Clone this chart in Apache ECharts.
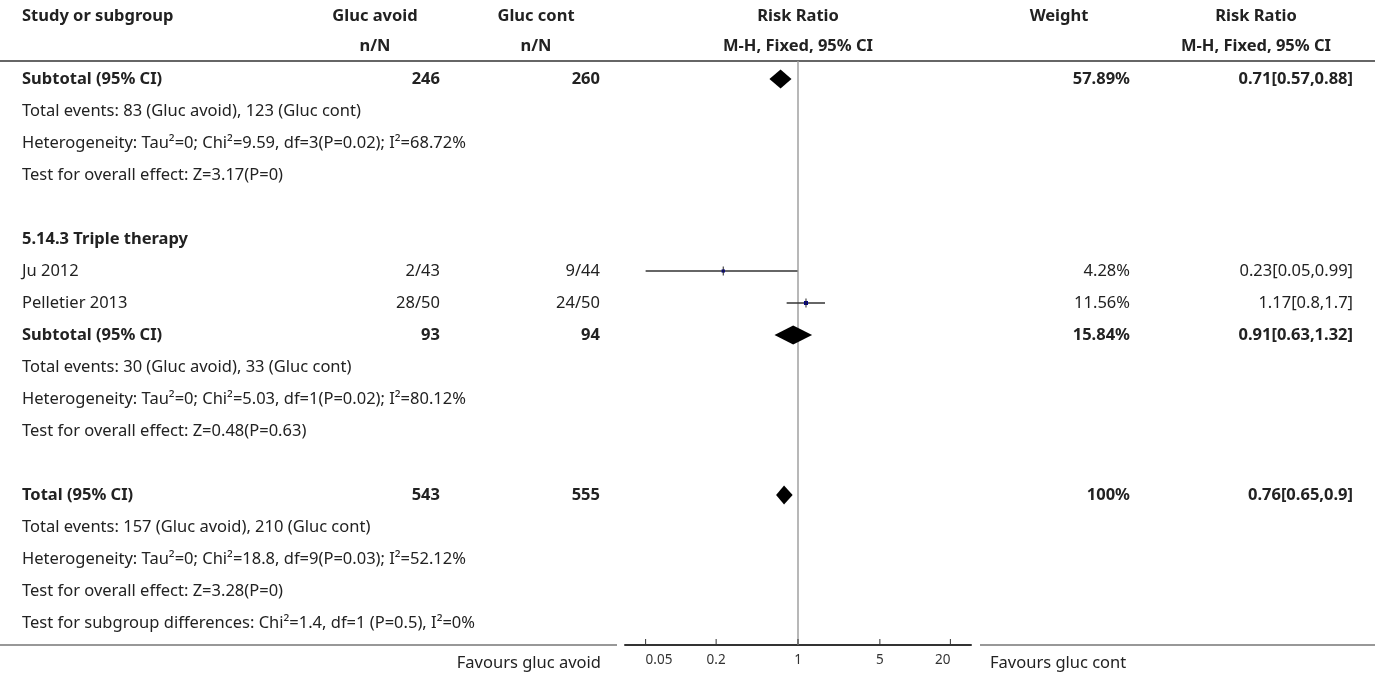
<!DOCTYPE html>
<html>
<head>
<meta charset="utf-8">
<script src="https://cdn.jsdelivr.net/npm/echarts@6/dist/echarts.min.js"></script>
<style>
html,body{margin:0;padding:0;background:#fff;}
#chart{width:1375px;height:677px;}
</style>
</head>
<body>
<div id="chart"></div>
<script>
// ---------- DATA ----------
const headerLine1 = ['Study or subgroup', 'Gluc avoid', 'Gluc cont', 'Risk Ratio', 'Weight', 'Risk Ratio'];
const headerLine2 = ['', 'n/N', 'n/N', 'M-H, Fixed, 95% CI', '', 'M-H, Fixed, 95% CI'];

const rowLabels = [
  'Subtotal (95% CI)',
  'Total events: 83 (Gluc avoid), 123 (Gluc cont)',
  'Heterogeneity: Tau\u00B2=0; Chi\u00B2=9.59, df=3(P=0.02); I\u00B2=68.72%',
  'Test for overall effect: Z=3.17(P=0)',
  '',
  '5.14.3 Triple therapy',
  'Ju 2012',
  'Pelletier 2013',
  'Subtotal (95% CI)',
  'Total events: 30 (Gluc avoid), 33 (Gluc cont)',
  'Heterogeneity: Tau\u00B2=0; Chi\u00B2=5.03, df=1(P=0.02); I\u00B2=80.12%',
  'Test for overall effect: Z=0.48(P=0.63)',
  '',
  'Total (95% CI)',
  'Total events: 157 (Gluc avoid), 210 (Gluc cont)',
  'Heterogeneity: Tau\u00B2=0; Chi\u00B2=18.8, df=9(P=0.03); I\u00B2=52.12%',
  'Test for overall effect: Z=3.28(P=0)',
  'Test for subgroup differences: Chi\u00B2=1.4, df=1 (P=0.5), I\u00B2=0%'
];
const rowBold   = [1,0,0,0,0,1,0,0,1,0,0,0,0,1,0,0,0,0];
const avoidCol  = ['246','','','','','','2/43','28/50','93','','','','','543','','','',''];
const contCol   = ['260','','','','','','9/44','24/50','94','','','','','555','','','',''];
const weightCol = ['57.89%','','','','','','4.28%','11.56%','15.84%','','','','','100%','','','',''];
const rrTextCol = ['0.71[0.57,0.88]','','','','','','0.23[0.05,0.99]','1.17[0.8,1.7]','0.91[0.63,1.32]','','','','','0.76[0.65,0.9]','','','',''];

// forest marks
const markRows   = [0, 6, 7, 8, 13];
const markType   = ['diamond','study','study','diamond','diamond'];
const markRR     = [0.71, 0.23, 1.17, 0.91, 0.76];
const markLow    = [0.57, 0.05, 0.8, 0.63, 0.65];
const markHigh   = [0.88, 0.99, 1.7, 1.32, 0.9];
const markWeight = [57.89, 4.28, 11.56, 15.84, 100];

const tickValues = [0.05, 0.2, 1, 5, 20];
const tickLabels = ['0.05', '0.2', '1', '5', '20'];
const favoursLeft = 'Favours gluc avoid';
const favoursRight = 'Favours gluc cont';

// ---------- LAYOUT ----------
const FONT = "'Noto Sans','Open Sans',sans-serif";
const FS = 16.5;
const TXT = '#222';
const ROW0 = 2;
const colX = {study: 22, avoid: 440, cont: 600, weight: 1130, rrText: 1353};
const headX = [22, 375, 536, 798, 1059, 1256];
const headAlign = ['left', 'center', 'center', 'center', 'center', 'center'];

function font(b, size) { return (b ? 'bold ' : '') + (size || FS) + 'px ' + FONT; }

const chart = echarts.init(document.getElementById('chart'), null, {renderer: 'canvas'});

const textData = rowLabels.map((_, i) => [1, i + ROW0]);
const headerData = [[1, 0.05], [1, 0.97]];
const markData = markRows.map((r, i) => [markRR[i], r + ROW0, markLow[i], markHigh[i]]);
const tickData = tickValues.map(v => [v, 19.6875]);

const option = {
  animation: false,
  backgroundColor: '#fff',
  grid: {left: 625, width: 346, top: 61, height: 584, containLabel: false},
  xAxis: {
    type: 'log', logBase: 10, min: 1/30, max: 30,
    axisLine: {show: true, lineStyle: {color: '#333', width: 2}},
    axisTick: {show: false}, axisLabel: {show: false}, splitLine: {show: false}
  },
  yAxis: {type: 'value', inverse: true, min: 1.4375, max: 19.6875, show: false},
  series: [
    {
      type: 'custom', coordinateSystem: 'cartesian2d', data: headerData, clip: false,
      renderItem: function (params, api) {
        const y = api.coord([1, api.value(1)])[1];
        const arr = params.dataIndex === 0 ? headerLine1 : headerLine2;
        return {
          type: 'group',
          children: arr.map((t, k) => ({
            type: 'text',
            style: {x: headX[k], y: y, text: t, font: font(true), fill: TXT, align: headAlign[k], verticalAlign: 'middle'}
          }))
        };
      }
    },
    {
      type: 'custom', coordinateSystem: 'cartesian2d', data: [[1, 1.4375]], clip: false, silent: true,
      renderItem: function (params, api) {
        const yTop = api.coord([1, 1.4375])[1];
        const yBot = api.coord([1, 19.6875])[1];
        const xl = api.coord([1/30, 0])[0];
        const xr = api.coord([30, 0])[0];
        return {
          type: 'group',
          children: [
            {type: 'line', shape: {x1: 0, y1: yTop, x2: 1375, y2: yTop}, style: {stroke: '#333', lineWidth: 1.5}},
            {type: 'line', shape: {x1: 0, y1: yBot, x2: xl - 8, y2: yBot}, style: {stroke: '#333', lineWidth: 1.2}},
            {type: 'line', shape: {x1: xr + 9, y1: yBot, x2: 1375, y2: yBot}, style: {stroke: '#333', lineWidth: 1.2}}
          ]
        };
      }
    },
    {
      type: 'custom', coordinateSystem: 'cartesian2d', data: [[1, 1.4375]], clip: false, silent: true,
      renderItem: function (params, api) {
        const p1 = api.coord([1, 1.4375]);
        const p2 = api.coord([1, 19.6875]);
        return {type: 'line', shape: {x1: p1[0], y1: p1[1], x2: p2[0], y2: p2[1]}, style: {stroke: '#a0a0a0', lineWidth: 1.5}};
      }
    },
    {
      type: 'custom', coordinateSystem: 'cartesian2d', data: textData, clip: false,
      renderItem: function (params, api) {
        const i = params.dataIndex;
        const y = api.coord([1, api.value(1)])[1];
        const b = rowBold[i] === 1;
        const cells = [rowLabels[i], avoidCol[i], contCol[i], weightCol[i], rrTextCol[i]];
        const xs = [colX.study, colX.avoid, colX.cont, colX.weight, colX.rrText];
        const al = ['left', 'right', 'right', 'right', 'right'];
        return {
          type: 'group',
          children: cells.map((t, k) => ({
            type: 'text',
            style: {x: xs[k], y: y + 0.5, text: t, font: font(b), fill: TXT, align: al[k], verticalAlign: 'middle'}
          }))
        };
      }
    },
    {
      type: 'custom', coordinateSystem: 'cartesian2d', data: markData, clip: false,
      renderItem: function (params, api) {
        const i = params.dataIndex;
        const p = api.coord([api.value(0), api.value(1)]);
        const lo = api.coord([api.value(2), api.value(1)])[0];
        const hi = api.coord([api.value(3), api.value(1)])[0];
        const y = p[1];
        if (markType[i] === 'diamond') {
          return {
            type: 'polygon',
            shape: {points: [[lo, y], [p[0], y - 9.5], [hi, y], [p[0], y + 9.5]]},
            style: {fill: '#000'}
          };
        }
        const s = 2 + Math.sqrt(markWeight[i]) * 0.6;
        return {
          type: 'group',
          children: [
            {type: 'line', shape: {x1: lo, y1: y, x2: hi, y2: y}, style: {stroke: '#333', lineWidth: 1.5}},
            {type: 'rect', shape: {x: p[0] - s / 2, y: y - s / 2, width: s, height: s}, style: {fill: '#00008b'}},
            {type: 'line', shape: {x1: p[0], y1: y - 4.5, x2: p[0], y2: y + 4.5}, style: {stroke: '#222', lineWidth: 1}}
          ]
        };
      }
    },
    {
      type: 'custom', coordinateSystem: 'cartesian2d', data: tickData, clip: false,
      renderItem: function (params, api) {
        const i = params.dataIndex;
        const p = api.coord([api.value(0), api.value(1)]);
        const al = i === 0 ? 'left' : (i === tickValues.length - 1 ? 'right' : 'center');
        return {
          type: 'group',
          children: [
            {type: 'line', shape: {x1: p[0], y1: p[1] - 6, x2: p[0], y2: p[1]}, style: {stroke: '#333', lineWidth: 1}},
            {type: 'text', style: {x: p[0], y: p[1] + 15, text: tickLabels[i], font: '13.5px ' + FONT, fill: '#333', align: al, verticalAlign: 'middle'}}
          ]
        };
      }
    },
    {
      type: 'custom', coordinateSystem: 'cartesian2d', data: [[1, 19.6875]], clip: false,
      renderItem: function (params, api) {
        const xl = api.coord([1/30, 0])[0];
        const xr = api.coord([30, 0])[0];
        const y = api.coord([1, 19.6875])[1] + 18;
        return {
          type: 'group',
          children: [
            {type: 'text', style: {x: xl - 24, y: y, text: favoursLeft, font: font(false), fill: TXT, align: 'right', verticalAlign: 'middle'}},
            {type: 'text', style: {x: xr + 19, y: y, text: favoursRight, font: font(false), fill: TXT, align: 'left', verticalAlign: 'middle'}}
          ]
        };
      }
    }
  ]
};
chart.setOption(option);
</script>
</body>
</html>
